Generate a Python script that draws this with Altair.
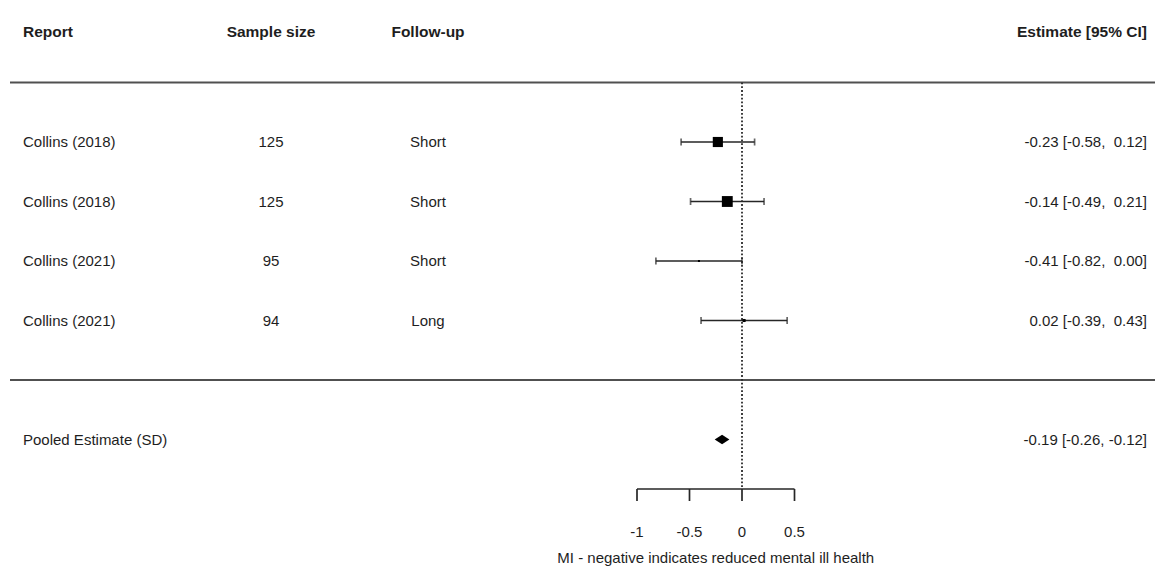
import altair as alt
import pandas as pd

# ---- data ----
reports = ["Collins (2018)", "Collins (2018)", "Collins (2021)", "Collins (2021)"]
sample_sizes = [125, 125, 95, 94]
follow_ups = ["Short", "Short", "Short", "Long"]
estimates = [-0.23, -0.14, -0.41, 0.02]
ci_low = [-0.58, -0.49, -0.82, -0.39]
ci_high = [0.12, 0.21, 0.00, 0.43]
rel_weights = [0.87, 1.0, 0.035, 0.08]

pooled_label = "Pooled Estimate (SD)"
pooled_est = -0.19
pooled_low = -0.26
pooled_high = -0.12

axis_ticks = [-1, -0.5, 0, 0.5]
axis_title = "MI - negative indicates reduced mental ill health"
headers = ["Report", "Sample size", "Follow-up", "Estimate [95% CI]"]

NB = "\u00a0"


def fmt_ci(e, l, h):
    s = f"{e:.2f} [{l:.2f}, {h:>5.2f}]"
    return s.replace("  ", " " + NB)


n = len(reports)
studies = pd.DataFrame({
    "report": reports,
    "n": [str(v) for v in sample_sizes],
    "follow": follow_ups,
    "est": estimates,
    "lo": ci_low,
    "hi": ci_high,
    "w": rel_weights,
    "row": list(range(1, n + 1)),
    "txt": [fmt_ci(e, l, h) for e, l, h in zip(estimates, ci_low, ci_high)],
})
pooled_row = n + 2
pooled = pd.DataFrame({
    "label": [pooled_label],
    "row": [pooled_row],
    "txt": [fmt_ci(pooled_est, pooled_low, pooled_high)],
})
half_h = 0.078
diamond = pd.DataFrame({
    "x": [pooled_low, pooled_est, pooled_high],
    "y": [pooled_row, pooled_row - half_h, pooled_row],
    "y2": [pooled_row, pooled_row + half_h, pooled_row],
})
ticks = pd.DataFrame({"v": axis_ticks, "lab": [f"{t:g}" for t in axis_ticks]})
seps = pd.DataFrame({"row": [0, n + 1]})
zero_df = pd.DataFrame({"x": [0], "row": [0]})
axis_df = pd.DataFrame({"a": [min(axis_ticks)], "b": [max(axis_ticks)],
                        "mid": [(min(axis_ticks) + max(axis_ticks)) / 2], "t": [axis_title]})
head_df = pd.DataFrame({"h": headers})

W, H = 1155, 569
x0_px, ppu = 742, 105.0
row0_px, row_h = 82.5, 59.5
xs = alt.Scale(domain=[-x0_px / ppu, (W - x0_px) / ppu], nice=False, zero=False)
ys = alt.Scale(domain=[-row0_px / row_h, (H - row0_px) / row_h], nice=False, zero=False, reverse=True)

FONT = "Liberation Sans"
TXT = "#1e1e1e"
LINE = "#262626"


def X(f):
    return alt.X(f, scale=xs, axis=None, title=None)


def Y(f):
    return alt.Y(f, scale=ys, axis=None, title=None)


base = alt.Chart(studies)

hlines = alt.Chart(seps).mark_rule(color="#505050", strokeWidth=1.8).encode(
    x=alt.value(10), x2=alt.value(W), y=Y("row:Q"))

zero_line = alt.Chart(zero_df).mark_rule(color="#2a2a2a", strokeWidth=1.8, strokeDash=[1.8, 2.0]).encode(
    x=X("x:Q"), y=Y("row:Q"), y2=alt.value(489))

ci = base.mark_rule(color=LINE, strokeWidth=1.7).encode(
    x=X("lo:Q"), x2="hi:Q", y=Y("row:Q"))
cap_lo = base.mark_tick(color=LINE, orient="vertical", size=7, thickness=1.7).encode(
    x=X("lo:Q"), y=Y("row:Q"))
cap_hi = base.mark_tick(color=LINE, orient="vertical", size=7, thickness=1.7).encode(
    x=X("hi:Q"), y=Y("row:Q"))
squares = base.mark_square(color="black", opacity=1).encode(
    x=X("est:Q"), y=Y("row:Q"),
    size=alt.Size("w:Q", scale=alt.Scale(domain=[0, 1], range=[0, 118]), legend=None))

dia = alt.Chart(diamond).mark_area(color="black", opacity=1, interpolate="linear").encode(
    x=X("x:Q"), y=Y("y:Q"), y2="y2:Q")

tstyle = dict(font=FONT, fontSize=15, color=TXT, baseline="middle")
t_report = base.mark_text(align="left", **tstyle).encode(
    x=alt.value(23), y=Y("row:Q"), text="report:N")
t_n = base.mark_text(align="center", **tstyle).encode(
    x=alt.value(271), y=Y("row:Q"), text="n:N")
t_f = base.mark_text(align="center", **tstyle).encode(
    x=alt.value(428), y=Y("row:Q"), text="follow:N")
t_est = base.mark_text(align="right", **tstyle).encode(
    x=alt.value(1147), y=Y("row:Q"), text="txt:N")

p_lab = alt.Chart(pooled).mark_text(align="left", **tstyle).encode(
    x=alt.value(23), y=Y("row:Q"), text="label:N")
p_est = alt.Chart(pooled).mark_text(align="right", **tstyle).encode(
    x=alt.value(1147), y=Y("row:Q"), text="txt:N")

hstyle = dict(font=FONT, fontSize=15.5, fontWeight="bold", color=TXT, baseline="middle")
head_x = [(23, "left"), (271, "center"), (428, "center"), (1147, "right")]
h_layers = [
    alt.Chart(head_df).transform_filter(alt.datum.h == headers[i]).mark_text(align=al, **hstyle).encode(
        x=alt.value(px), y=alt.value(32), text="h:N")
    for i, (px, al) in enumerate(head_x)
]

ax_line = alt.Chart(axis_df).mark_rule(color=LINE, strokeWidth=1.7).encode(
    x=X("a:Q"), x2="b:Q", y=alt.value(489))
ax_ticks = alt.Chart(ticks).mark_rule(color=LINE, strokeWidth=1.7).encode(
    x=X("v:Q"), y=alt.value(489), y2=alt.value(501))
ax_labels = alt.Chart(ticks).mark_text(align="center", **tstyle).encode(
    x=X("v:Q"), y=alt.value(532), text="lab:N")
ax_title = alt.Chart(axis_df).mark_text(align="center", **tstyle).encode(
    x=X("mid:Q"), y=alt.value(558), text="t:N")

chart = alt.layer(
    hlines, zero_line, ci, cap_lo, cap_hi, squares, dia,
    t_report, t_n, t_f, t_est, p_lab, p_est, *h_layers,
    ax_line, ax_ticks, ax_labels, ax_title,
).properties(
    width=W, height=H, padding=0, autosize=alt.AutoSizeParams(type="none"),
    background="white",
).configure_view(stroke=None)

chart.save("out.html", embed_options={"renderer": "svg", "actions": False})
